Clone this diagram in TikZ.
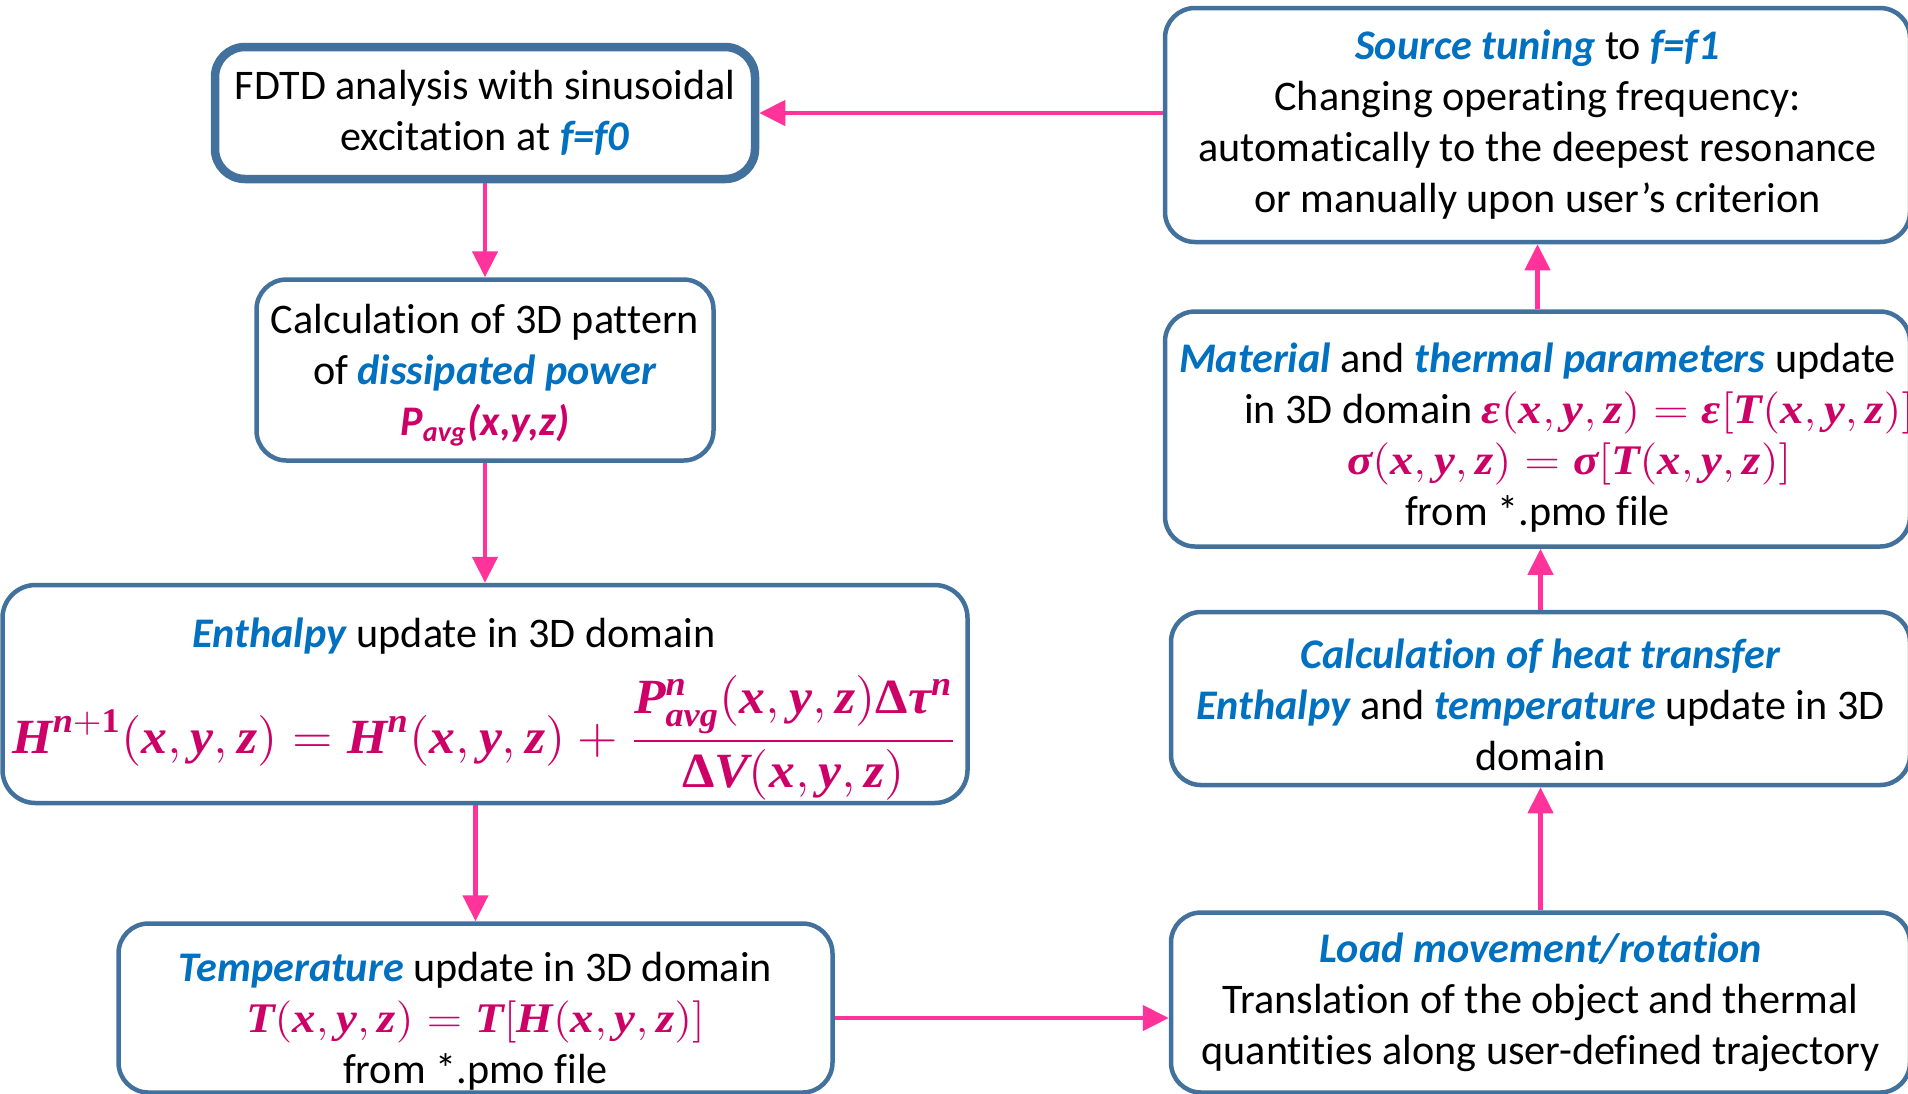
\documentclass[tikz,border=0pt]{standalone}
\usepackage{fontspec}
\setmainfont{Carlito}[Ligatures=NoCommon]
\newfontfamily\eqfont{Liberation Serif}
\usepackage{amsmath}
\usepackage{graphicx}
\usepackage{tikz}
\usetikzlibrary{arrows.meta, positioning}

\definecolor{boxline}{HTML}{41719C}
\definecolor{arrowpink}{HTML}{FF3399}
\definecolor{kwblue}{HTML}{0070C0}
\definecolor{eqmag}{HTML}{CC0066}

\newcommand{\kw}[1]{\textcolor{kwblue}{\textbf{\textit{#1}}}}
\newcommand{\vb}[1]{\text{\eqfont\bfseries\itshape #1}}
\newcommand{\ub}[1]{\text{\eqfont\bfseries #1}}
\newcommand{\xyz}{(\vb{x},\vb{y},\vb{z})}
\newcommand{\eq}[2][1.11]{\textcolor{eqmag}{\scalebox{#1}[1]{$#2$}}}

\begin{document}
\begin{tikzpicture}[
    font=\fontsize{12pt}{14.5pt}\selectfont,
    stage/.style={rectangle, rounded corners=0.3cm, draw=boxline, line width=0.045cm, fill=white, align=center, inner sep=0pt},
    arrow/.style={draw=arrowpink, line width=0.045cm, -{Triangle[width=0.25cm, length=0.26cm]}}
]
\clip (0,0) rectangle (19.08,-10.93);

% Nodes
\node (fdtd) [stage, line width=0.085cm, minimum width=5.40cm, minimum height=1.32cm] at (4.85,-1.13)
    {FDTD analysis with sinusoidal \\ excitation at \kw{f=f0}};
\node (power) [stage, below=0.94cm of fdtd, minimum width=4.57cm, minimum height=1.81cm]
    {\rule{0pt}{0.4cm}Calculation of 3D pattern \\ of \kw{dissipated power} \\ \textcolor{eqmag}{\textbf{\textit{P\textsubscript{avg}(x,y,z)}}}};
\node (enthalpy) [stage, below=1.20cm of power, minimum width=9.65cm, minimum height=2.18cm, rounded corners=0.33cm]
    {\rule{0pt}{0.60cm}\kw{Enthalpy} update in 3D domain\hspace*{0.62cm} \\[0.18cm]
     {\fontsize{14pt}{16pt}\selectfont\eq[1.05]{\displaystyle \vb{H}^{\vb{n}+\ub{1}}\xyz=\vb{H}^{\vb{n}}\xyz+\frac{\vb{P}^{\vb{n}}_{\vb{avg}}\xyz\ub{Δ}\vb{τ}^{\vb{n}}}{\ub{Δ}\vb{V}\xyz}}}};
\node (temperature) [stage, below=1.16cm of enthalpy, xshift=-0.095cm, minimum width=7.14cm, minimum height=1.69cm]
    {\rule{0pt}{0.56cm}\kw{Temperature} update in 3D domain \\ \eq{\vb{T}\xyz=\vb{T}[\vb{H}\xyz]} \\ from *.pmo file};

\node (tuning) [stage, minimum width=7.45cm, minimum height=2.34cm] at (15.375,-1.25)
    {\kw{Source tuning} to \kw{f=f1} \\ Changing operating frequency: \\ automatically to the deepest resonance \\ or manually upon user’s criterion};
\node (material) [stage, below=0.65cm of tuning, minimum width=7.45cm, minimum height=2.35cm]
    {\rule{0pt}{0.46cm}\kw{Material} and \kw{thermal parameters} update \\
     \makebox[5.87cm][l]{in 3D domain \eq{\vb{ε}\xyz=\vb{ε}[\vb{T}\xyz]}} \\
     \makebox[3.81cm][l]{\eq{\vb{σ}\xyz=\vb{σ}[\vb{T}\xyz]}} \\ from *.pmo file};
\node (heat) [stage, below=0.61cm of material, xshift=0.03cm, minimum width=7.39cm, minimum height=1.73cm]
    {\rule{0pt}{0.42cm}\kw{Calculation of heat transfer} \\ \kw{Enthalpy} and \kw{temperature} update in 3D \\ domain};
\node (load) [stage, below=1.23cm of heat, minimum width=7.39cm, minimum height=1.80cm]
    {\kw{Load movement/rotation} \\ Translation of the object and thermal \\ quantities along user-defined trajectory};

% Arrows
\draw [arrow] (fdtd) -- (power);
\draw [arrow] (power) -- (enthalpy);
\draw [arrow] (temperature.north |- enthalpy.south) -- (temperature.north);
\draw [arrow] ([yshift=-0.1cm]temperature.east) -- ([yshift=-0.1cm]temperature.east -| load.west);
\draw [arrow] (load) -- (heat);
\draw [arrow] (heat.north) -- (heat.north |- material.south);
\draw [arrow] (material) -- (tuning);
\draw [arrow] (tuning.west |- fdtd.east) -- (fdtd.east);

\end{tikzpicture}
\end{document}
